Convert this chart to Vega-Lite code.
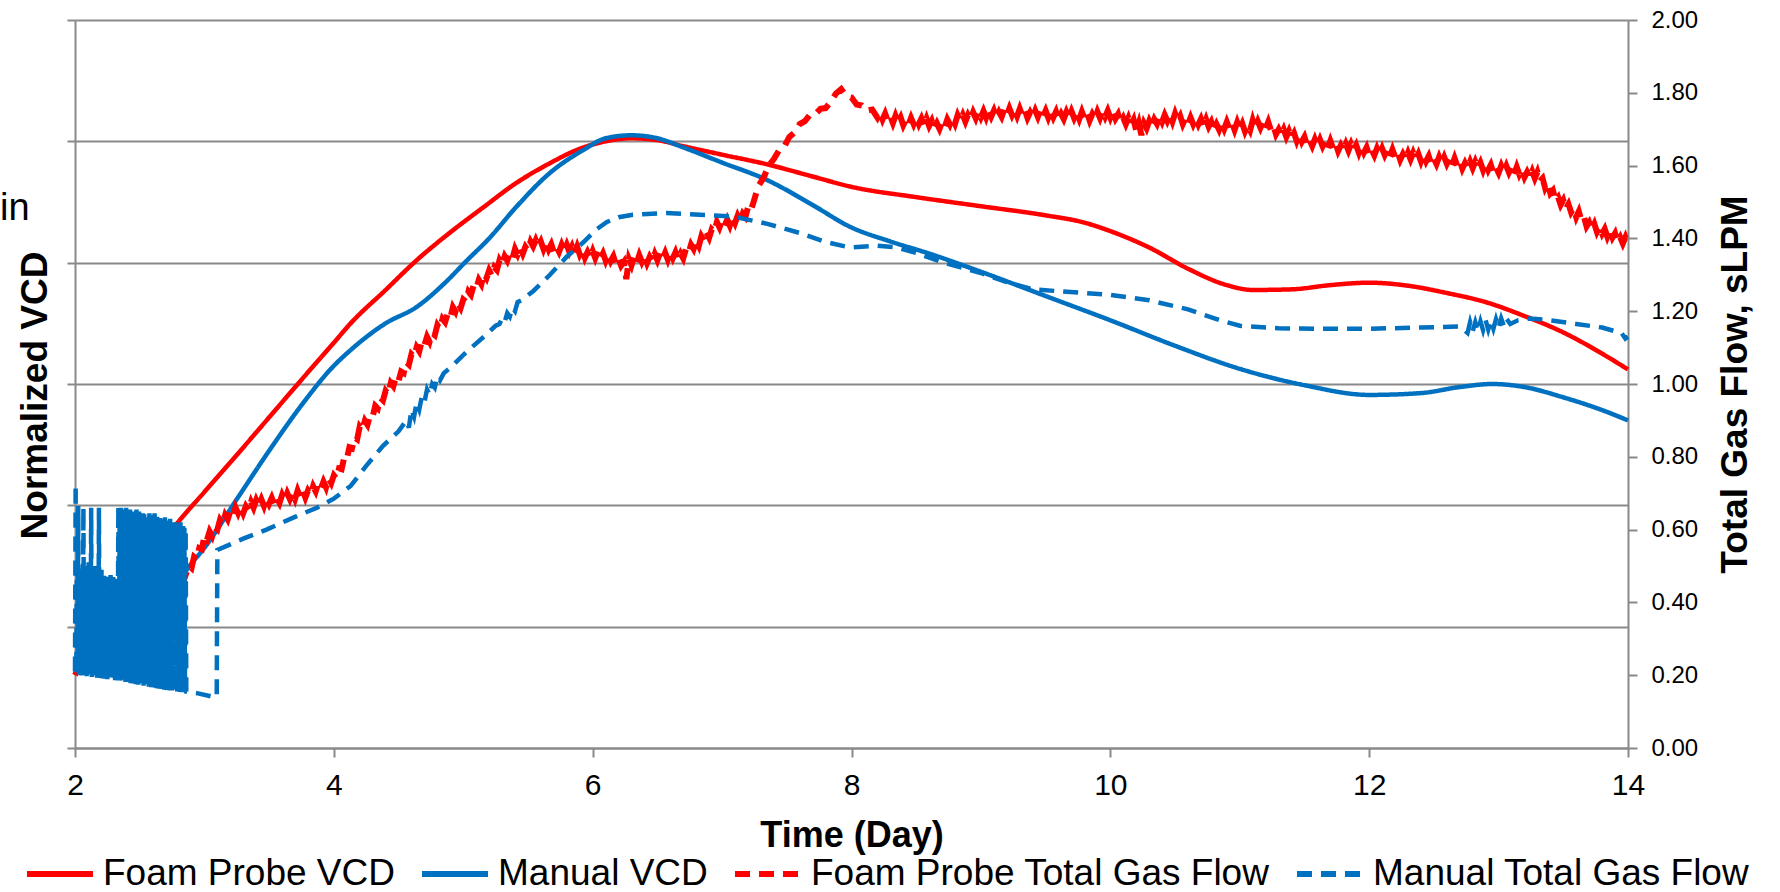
{
  "$schema": "https://vega.github.io/schema/vega-lite/v6.json",
  "width": 1553,
  "height": 728,
  "autosize": {"type": "none"},
  "padding": {"left": 75, "top": 20, "right": 152, "bottom": 144},
  "background": "white",
  "config": {
    "font": "Liberation Sans",
    "view": {"stroke": null},
    "axis": {
      "domainColor": "#898989",
      "domainWidth": 2,
      "tickColor": "#898989",
      "tickWidth": 2,
      "labelColor": "#000000",
      "titleColor": "#000000",
      "titleFont": "Liberation Sans",
      "labelFont": "Liberation Sans",
      "titleFontWeight": "bold",
      "titleLimit": 2000,
      "labelFlush": false,
      "labelOverlap": false
    },
    "legend": {
      "orient": "none",
      "legendX": -51,
      "legendY": 818,
      "direction": "horizontal",
      "labelFontSize": 37,
      "labelFont": "Liberation Sans",
      "labelColor": "#000000",
      "labelLimit": 2000,
      "labelOffset": 7,
      "columnPadding": 15,
      "symbolType": "stroke",
      "symbolSize": 4356,
      "symbolStrokeWidth": 6,
      "padding": 0
    }
  },
  "datasets": {
    "foamVcd": [
      {"t": 2.7, "fv": 0.347}, {"t": 2.76, "fv": 0.363}, {"t": 3.0, "fv": 0.422}, {"t": 3.25, "fv": 0.483},
      {"t": 3.5, "fv": 0.545}, {"t": 3.75, "fv": 0.607}, {"t": 4.0, "fv": 0.668}, {"t": 4.13, "fv": 0.7},
      {"t": 4.4, "fv": 0.755}, {"t": 4.64, "fv": 0.804}, {"t": 4.9, "fv": 0.85}, {"t": 5.16, "fv": 0.892},
      {"t": 5.4, "fv": 0.93}, {"t": 5.67, "fv": 0.964}, {"t": 5.88, "fv": 0.986}, {"t": 6.1, "fv": 1.0},
      {"t": 6.3, "fv": 1.005}, {"t": 6.5, "fv": 1.002}, {"t": 6.7, "fv": 0.992}, {"t": 7.0, "fv": 0.978},
      {"t": 7.35, "fv": 0.962}, {"t": 7.7, "fv": 0.942}, {"t": 8.0, "fv": 0.925}, {"t": 8.5, "fv": 0.908},
      {"t": 9.0, "fv": 0.893}, {"t": 9.5, "fv": 0.878}, {"t": 9.8, "fv": 0.866}, {"t": 10.0, "fv": 0.852},
      {"t": 10.3, "fv": 0.825}, {"t": 10.6, "fv": 0.79}, {"t": 10.9, "fv": 0.763}, {"t": 11.1, "fv": 0.755},
      {"t": 11.4, "fv": 0.756}, {"t": 11.7, "fv": 0.763}, {"t": 12.0, "fv": 0.767}, {"t": 12.3, "fv": 0.762},
      {"t": 12.6, "fv": 0.75}, {"t": 12.9, "fv": 0.735}, {"t": 13.2, "fv": 0.712}, {"t": 13.5, "fv": 0.685},
      {"t": 13.8, "fv": 0.65}, {"t": 14.0, "fv": 0.624}
    ],
    "manualVcd": [
      {"t": 2.85, "mv": 0.29}, {"t": 2.87, "mv": 0.296}, {"t": 3.0, "mv": 0.33}, {"t": 3.25, "mv": 0.41},
      {"t": 3.5, "mv": 0.49}, {"t": 3.75, "mv": 0.565}, {"t": 4.0, "mv": 0.63}, {"t": 4.13, "mv": 0.656},
      {"t": 4.4, "mv": 0.7}, {"t": 4.64, "mv": 0.727}, {"t": 4.85, "mv": 0.765}, {"t": 5.03, "mv": 0.804},
      {"t": 5.2, "mv": 0.84}, {"t": 5.41, "mv": 0.892}, {"t": 5.67, "mv": 0.948}, {"t": 5.93, "mv": 0.986},
      {"t": 6.1, "mv": 1.005}, {"t": 6.3, "mv": 1.01}, {"t": 6.5, "mv": 1.005}, {"t": 6.7, "mv": 0.99},
      {"t": 7.0, "mv": 0.965}, {"t": 7.35, "mv": 0.936}, {"t": 7.7, "mv": 0.895}, {"t": 7.99, "mv": 0.859},
      {"t": 8.3, "mv": 0.835}, {"t": 8.6, "mv": 0.815}, {"t": 9.0, "mv": 0.785}, {"t": 9.5, "mv": 0.745},
      {"t": 10.0, "mv": 0.705}, {"t": 10.5, "mv": 0.663}, {"t": 11.0, "mv": 0.625}, {"t": 11.5, "mv": 0.598},
      {"t": 12.0, "mv": 0.582}, {"t": 12.4, "mv": 0.585}, {"t": 12.7, "mv": 0.595}, {"t": 12.95, "mv": 0.6},
      {"t": 13.2, "mv": 0.595}, {"t": 13.5, "mv": 0.578}, {"t": 13.8, "mv": 0.557}, {"t": 14.0, "mv": 0.54}
    ],
    "foamGas": [
      {"t":2.0,"fg":0.2},{"t":2.02,"fg":0.215},{"t":2.1,"fg":0.225},{"t":2.2,"fg":0.24},{"t":2.3,"fg":0.255},{"t":2.4,"fg":0.27},
      {"t":2.5,"fg":0.3},{"t":2.6,"fg":0.33},{"t":2.7,"fg":0.38},{"t":2.8,"fg":0.43},{"t":2.84,"fg":0.46},
      {"t":2.88,"fg":0.5},{"t":2.9,"fg":0.494},{"t":2.92,"fg":0.525},{"t":2.94,"fg":0.519},{"t":2.96,"fg":0.549},{"t":2.98,"fg":0.546},
      {"t":3.0,"fg":0.583},{"t":3.02,"fg":0.572},{"t":3.04,"fg":0.595},{"t":3.06,"fg":0.582},{"t":3.08,"fg":0.606},{"t":3.1,"fg":0.6},
      {"t":3.12,"fg":0.626},{"t":3.14,"fg":0.615},{"t":3.16,"fg":0.64},{"t":3.18,"fg":0.628},{"t":3.2,"fg":0.65},{"t":3.22,"fg":0.637},
      {"t":3.24,"fg":0.661},{"t":3.26,"fg":0.645},{"t":3.28,"fg":0.663},{"t":3.3,"fg":0.645},{"t":3.32,"fg":0.664},{"t":3.34,"fg":0.653},
      {"t":3.36,"fg":0.676},{"t":3.38,"fg":0.66},{"t":3.4,"fg":0.681},{"t":3.42,"fg":0.665},{"t":3.44,"fg":0.683},{"t":3.46,"fg":0.665},
      {"t":3.48,"fg":0.688},{"t":3.5,"fg":0.671},{"t":3.52,"fg":0.687},{"t":3.54,"fg":0.668},{"t":3.56,"fg":0.686},{"t":3.58,"fg":0.673},
      {"t":3.6,"fg":0.695},{"t":3.62,"fg":0.679},{"t":3.64,"fg":0.7},{"t":3.66,"fg":0.684},{"t":3.68,"fg":0.702},{"t":3.7,"fg":0.684},
      {"t":3.72,"fg":0.707},{"t":3.74,"fg":0.689},{"t":3.76,"fg":0.707},{"t":3.78,"fg":0.688},{"t":3.8,"fg":0.707},{"t":3.82,"fg":0.696},
      {"t":3.84,"fg":0.719},{"t":3.86,"fg":0.705},{"t":3.88,"fg":0.727},{"t":3.9,"fg":0.713},{"t":3.92,"fg":0.732},{"t":3.94,"fg":0.716},
      {"t":3.96,"fg":0.741},{"t":3.98,"fg":0.728},{"t":4.0,"fg":0.749},{"t":4.02,"fg":0.74},{"t":4.04,"fg":0.768},{"t":4.06,"fg":0.766},
      {"t":4.08,"fg":0.798},{"t":4.1,"fg":0.793},{"t":4.12,"fg":0.826},{"t":4.14,"fg":0.823},{"t":4.16,"fg":0.853},{"t":4.18,"fg":0.848},
      {"t":4.2,"fg":0.883},{"t":4.22,"fg":0.874},{"t":4.24,"fg":0.899},{"t":4.26,"fg":0.888},{"t":4.28,"fg":0.914},{"t":4.3,"fg":0.91},
      {"t":4.32,"fg":0.94},{"t":4.34,"fg":0.933},{"t":4.36,"fg":0.962},{"t":4.38,"fg":0.955},{"t":4.4,"fg":0.981},{"t":4.42,"fg":0.972},
      {"t":4.44,"fg":1.003},{"t":4.46,"fg":0.994},{"t":4.48,"fg":1.019},{"t":4.5,"fg":1.008},{"t":4.52,"fg":1.034},{"t":4.54,"fg":1.03},
      {"t":4.56,"fg":1.06},{"t":4.58,"fg":1.053},{"t":4.6,"fg":1.082},{"t":4.62,"fg":1.075},{"t":4.64,"fg":1.101},{"t":4.66,"fg":1.09},
      {"t":4.68,"fg":1.118},{"t":4.7,"fg":1.107},{"t":4.72,"fg":1.13},{"t":4.74,"fg":1.116},{"t":4.76,"fg":1.14},{"t":4.78,"fg":1.134},
      {"t":4.8,"fg":1.162},{"t":4.82,"fg":1.152},{"t":4.84,"fg":1.179},{"t":4.86,"fg":1.17},{"t":4.88,"fg":1.193},{"t":4.9,"fg":1.182},
      {"t":4.92,"fg":1.211},{"t":4.94,"fg":1.199},{"t":4.96,"fg":1.222},{"t":4.98,"fg":1.209},{"t":5.0,"fg":1.232},{"t":5.02,"fg":1.226},
      {"t":5.04,"fg":1.254},{"t":5.06,"fg":1.245},{"t":5.08,"fg":1.271},{"t":5.1,"fg":1.262},{"t":5.12,"fg":1.286},{"t":5.14,"fg":1.274},
      {"t":5.16,"fg":1.303},{"t":5.18,"fg":1.291},{"t":5.2,"fg":1.312},{"t":5.22,"fg":1.298},{"t":5.24,"fg":1.321},{"t":5.26,"fg":1.313},
      {"t":5.28,"fg":1.34},{"t":5.3,"fg":1.328},{"t":5.32,"fg":1.351},{"t":5.34,"fg":1.339},{"t":5.36,"fg":1.359},{"t":5.38,"fg":1.345},
      {"t":5.4,"fg":1.371},{"t":5.42,"fg":1.356},{"t":5.44,"fg":1.375},{"t":5.46,"fg":1.358},{"t":5.48,"fg":1.377},{"t":5.5,"fg":1.367},
      {"t":5.52,"fg":1.391},{"t":5.54,"fg":1.378},{"t":5.56,"fg":1.395},{"t":5.58,"fg":1.377},{"t":5.6,"fg":1.391},{"t":5.62,"fg":1.371},
      {"t":5.64,"fg":1.39},{"t":5.66,"fg":1.37},{"t":5.68,"fg":1.384},{"t":5.7,"fg":1.362},{"t":5.72,"fg":1.377},{"t":5.74,"fg":1.363},
      {"t":5.76,"fg":1.382},{"t":5.78,"fg":1.364},{"t":5.8,"fg":1.382},{"t":5.82,"fg":1.363},{"t":5.84,"fg":1.378},{"t":5.86,"fg":1.357},
      {"t":5.88,"fg":1.377},{"t":5.9,"fg":1.356},{"t":5.92,"fg":1.37},{"t":5.94,"fg":1.347},{"t":5.96,"fg":1.362},{"t":5.98,"fg":1.346},
      {"t":6.0,"fg":1.365},{"t":6.02,"fg":1.346},{"t":6.04,"fg":1.364},{"t":6.06,"fg":1.345},{"t":6.08,"fg":1.359},{"t":6.1,"fg":1.339},
      {"t":6.12,"fg":1.358},{"t":6.14,"fg":1.338},{"t":6.16,"fg":1.351},{"t":6.18,"fg":1.329},{"t":6.2,"fg":1.344},{"t":6.22,"fg":1.325},
      {"t":6.24,"fg":1.335},{"t":6.26,"fg":1.288},{"t":6.28,"fg":1.343},{"t":6.3,"fg":1.326},{"t":6.32,"fg":1.35},{"t":6.34,"fg":1.332},
      {"t":6.36,"fg":1.354},{"t":6.38,"fg":1.336},{"t":6.4,"fg":1.352},{"t":6.42,"fg":1.332},{"t":6.44,"fg":1.349},{"t":6.46,"fg":1.336},
      {"t":6.48,"fg":1.357},{"t":6.5,"fg":1.34},{"t":6.52,"fg":1.36},{"t":6.54,"fg":1.344},{"t":6.56,"fg":1.361},{"t":6.58,"fg":1.342},
      {"t":6.6,"fg":1.364},{"t":6.62,"fg":1.346},{"t":6.64,"fg":1.362},{"t":6.66,"fg":1.341},{"t":6.68,"fg":1.358},{"t":6.7,"fg":1.345},
      {"t":6.72,"fg":1.37},{"t":6.74,"fg":1.359},{"t":6.76,"fg":1.383},{"t":6.78,"fg":1.371},{"t":6.8,"fg":1.393},{"t":6.82,"fg":1.379},
      {"t":6.84,"fg":1.406},{"t":6.86,"fg":1.394},{"t":6.88,"fg":1.416},{"t":6.9,"fg":1.402},{"t":6.92,"fg":1.425},{"t":6.94,"fg":1.418},
      {"t":6.96,"fg":1.445},{"t":6.98,"fg":1.43},{"t":7.0,"fg":1.45},{"t":7.02,"fg":1.435},{"t":7.04,"fg":1.452},{"t":7.06,"fg":1.435},
      {"t":7.08,"fg":1.457},{"t":7.1,"fg":1.442},{"t":7.12,"fg":1.462},{"t":7.14,"fg":1.447},{"t":7.16,"fg":1.468},{"t":7.18,"fg":1.459},
      {"t":7.2,"fg":1.485},{"t":7.22,"fg":1.475},
      {"t":7.24,"fg":1.496},{"t":7.28,"fg":1.544},{"t":7.32,"fg":1.566},{"t":7.36,"fg":1.6},{"t":7.4,"fg":1.618},{"t":7.44,"fg":1.642},
      {"t":7.48,"fg":1.652},{"t":7.52,"fg":1.679},{"t":7.56,"fg":1.691},{"t":7.6,"fg":1.714},{"t":7.64,"fg":1.722},{"t":7.68,"fg":1.74},
      {"t":7.72,"fg":1.741},{"t":7.76,"fg":1.756},{"t":7.8,"fg":1.758},{"t":7.84,"fg":1.776},{"t":7.88,"fg":1.798},{"t":7.92,"fg":1.81},
      {"t":7.96,"fg":1.79},{"t":8.0,"fg":1.787},{"t":8.04,"fg":1.768},{"t":8.08,"fg":1.765},{"t":8.12,"fg":1.751},{"t":8.16,"fg":1.754},
      {"t":8.2,"fg":1.732},
      {"t":8.22,"fg":1.747},{"t":8.24,"fg":1.727},{"t":8.26,"fg":1.743},{"t":8.28,"fg":1.723},{"t":8.3,"fg":1.736},{"t":8.32,"fg":1.717},
      {"t":8.34,"fg":1.737},{"t":8.36,"fg":1.718},{"t":8.38,"fg":1.732},{"t":8.4,"fg":1.711},{"t":8.42,"fg":1.726},{"t":8.44,"fg":1.712},
      {"t":8.46,"fg":1.731},{"t":8.48,"fg":1.714},{"t":8.5,"fg":1.732},{"t":8.52,"fg":1.714},{"t":8.54,"fg":1.729},{"t":8.56,"fg":1.709},
      {"t":8.58,"fg":1.729},{"t":8.6,"fg":1.709},{"t":8.62,"fg":1.723},{"t":8.64,"fg":1.701},{"t":8.66,"fg":1.716},{"t":8.68,"fg":1.701},
      {"t":8.7,"fg":1.72},{"t":8.72,"fg":1.706},{"t":8.74,"fg":1.727},{"t":8.76,"fg":1.713},{"t":8.78,"fg":1.731},{"t":8.8,"fg":1.715},
      {"t":8.82,"fg":1.738},{"t":8.84,"fg":1.722},{"t":8.86,"fg":1.739},{"t":8.88,"fg":1.721},{"t":8.9,"fg":1.739},{"t":8.92,"fg":1.726},
      {"t":8.94,"fg":1.746},{"t":8.96,"fg":1.73},{"t":8.98,"fg":1.75},{"t":9.0,"fg":1.733},{"t":9.02,"fg":1.75},{"t":9.04,"fg":1.732},
      {"t":9.06,"fg":1.753},{"t":9.08,"fg":1.735},{"t":9.1,"fg":1.751},{"t":9.12,"fg":1.73},{"t":9.14,"fg":1.747},{"t":9.16,"fg":1.734},
      {"t":9.18,"fg":1.754},{"t":9.2,"fg":1.738},{"t":9.22,"fg":1.757},{"t":9.24,"fg":1.739},{"t":9.26,"fg":1.755},{"t":9.28,"fg":1.736},
      {"t":9.3,"fg":1.756},{"t":9.32,"fg":1.737},{"t":9.34,"fg":1.752},{"t":9.36,"fg":1.731},{"t":9.38,"fg":1.746},{"t":9.4,"fg":1.732},
      {"t":9.42,"fg":1.751},{"t":9.44,"fg":1.734},{"t":9.46,"fg":1.753},{"t":9.48,"fg":1.735},{"t":9.5,"fg":1.751},{"t":9.52,"fg":1.732},
      {"t":9.54,"fg":1.752},{"t":9.56,"fg":1.733},{"t":9.58,"fg":1.748},{"t":9.6,"fg":1.726},{"t":9.62,"fg":1.742},{"t":9.64,"fg":1.728},
      {"t":9.66,"fg":1.747},{"t":9.68,"fg":1.73},{"t":9.7,"fg":1.749},{"t":9.72,"fg":1.731},{"t":9.74,"fg":1.747},{"t":9.76,"fg":1.728},
      {"t":9.78,"fg":1.748},{"t":9.8,"fg":1.729},{"t":9.82,"fg":1.745},{"t":9.84,"fg":1.724},{"t":9.86,"fg":1.741},{"t":9.88,"fg":1.727},
      {"t":9.9,"fg":1.748},{"t":9.92,"fg":1.731},{"t":9.94,"fg":1.751},{"t":9.96,"fg":1.734},{"t":9.98,"fg":1.751},{"t":10.0,"fg":1.732},
      {"t":10.02,"fg":1.75},{"t":10.04,"fg":1.729},{"t":10.06,"fg":1.741},{"t":10.08,"fg":1.717},{"t":10.1,"fg":1.731},{"t":10.12,"fg":1.714},
      {"t":10.14,"fg":1.731},{"t":10.16,"fg":1.711},{"t":10.18,"fg":1.726},{"t":10.2,"fg":1.695},{"t":10.22,"fg":1.717},{"t":10.24,"fg":1.684},
      {"t":10.26,"fg":1.716},{"t":10.28,"fg":1.702},{"t":10.3,"fg":1.722},{"t":10.32,"fg":1.706},{"t":10.34,"fg":1.727},{"t":10.36,"fg":1.715},
      {"t":10.38,"fg":1.736},{"t":10.4,"fg":1.72},{"t":10.42,"fg":1.739},{"t":10.44,"fg":1.723},{"t":10.46,"fg":1.74},{"t":10.48,"fg":1.721},
      {"t":10.5,"fg":1.743},{"t":10.52,"fg":1.723},{"t":10.54,"fg":1.736},{"t":10.56,"fg":1.714},{"t":10.58,"fg":1.729},{"t":10.6,"fg":1.713},
      {"t":10.62,"fg":1.732},{"t":10.64,"fg":1.714},{"t":10.66,"fg":1.731},{"t":10.68,"fg":1.713},{"t":10.7,"fg":1.728},{"t":10.72,"fg":1.707},
      {"t":10.74,"fg":1.727},{"t":10.76,"fg":1.707},{"t":10.78,"fg":1.72},{"t":10.8,"fg":1.698},{"t":10.82,"fg":1.714},{"t":10.84,"fg":1.699},
      {"t":10.86,"fg":1.719},{"t":10.88,"fg":1.701},{"t":10.9,"fg":1.72},{"t":10.92,"fg":1.702},{"t":10.94,"fg":1.718},{"t":10.96,"fg":1.698},
      {"t":10.98,"fg":1.719},{"t":11.0,"fg":1.699},{"t":11.02,"fg":1.715},{"t":11.04,"fg":1.694},{"t":11.06,"fg":1.711},{"t":11.08,"fg":1.697},
      {"t":11.1,"fg":1.724},{"t":11.12,"fg":1.701},{"t":11.14,"fg":1.721},{"t":11.16,"fg":1.704},{"t":11.18,"fg":1.721},{"t":11.2,"fg":1.702},
      {"t":11.22,"fg":1.72},{"t":11.24,"fg":1.698},{"t":11.26,"fg":1.71},{"t":11.28,"fg":1.686},{"t":11.3,"fg":1.699},{"t":11.32,"fg":1.682},
      {"t":11.34,"fg":1.699},{"t":11.36,"fg":1.679},{"t":11.38,"fg":1.695},{"t":11.4,"fg":1.675},{"t":11.42,"fg":1.689},{"t":11.44,"fg":1.668},
      {"t":11.46,"fg":1.687},{"t":11.48,"fg":1.666},{"t":11.5,"fg":1.679},{"t":11.52,"fg":1.656},{"t":11.54,"fg":1.67},{"t":11.56,"fg":1.654},
      {"t":11.58,"fg":1.672},{"t":11.6,"fg":1.653},{"t":11.62,"fg":1.671},{"t":11.64,"fg":1.653},{"t":11.66,"fg":1.668},{"t":11.68,"fg":1.648},
      {"t":11.7,"fg":1.668},{"t":11.72,"fg":1.648},{"t":11.74,"fg":1.662},{"t":11.76,"fg":1.64},{"t":11.78,"fg":1.655},{"t":11.8,"fg":1.64},
      {"t":11.82,"fg":1.659},{"t":11.84,"fg":1.641},{"t":11.86,"fg":1.659},{"t":11.88,"fg":1.641},{"t":11.9,"fg":1.656},{"t":11.92,"fg":1.636},
      {"t":11.94,"fg":1.656},{"t":11.96,"fg":1.636},{"t":11.98,"fg":1.65},{"t":12.0,"fg":1.628},{"t":12.02,"fg":1.643},{"t":12.04,"fg":1.628},
      {"t":12.06,"fg":1.647},{"t":12.08,"fg":1.629},{"t":12.1,"fg":1.647},{"t":12.12,"fg":1.629},{"t":12.14,"fg":1.644},{"t":12.16,"fg":1.624},
      {"t":12.18,"fg":1.644},{"t":12.2,"fg":1.624},{"t":12.22,"fg":1.638},{"t":12.24,"fg":1.616},{"t":12.26,"fg":1.631},{"t":12.28,"fg":1.616},
      {"t":12.3,"fg":1.635},{"t":12.32,"fg":1.617},{"t":12.34,"fg":1.635},{"t":12.36,"fg":1.617},{"t":12.38,"fg":1.632},{"t":12.4,"fg":1.612},
      {"t":12.42,"fg":1.632},{"t":12.44,"fg":1.612},{"t":12.46,"fg":1.626},{"t":12.48,"fg":1.604},{"t":12.5,"fg":1.619},{"t":12.52,"fg":1.604},
      {"t":12.54,"fg":1.623},{"t":12.56,"fg":1.605},{"t":12.58,"fg":1.623},{"t":12.6,"fg":1.605},{"t":12.62,"fg":1.62},{"t":12.64,"fg":1.6},
      {"t":12.66,"fg":1.62},{"t":12.68,"fg":1.6},{"t":12.7,"fg":1.614},{"t":12.72,"fg":1.592},{"t":12.74,"fg":1.607},{"t":12.76,"fg":1.592},
      {"t":12.78,"fg":1.611},{"t":12.8,"fg":1.593},{"t":12.82,"fg":1.611},{"t":12.84,"fg":1.593},{"t":12.86,"fg":1.608},{"t":12.88,"fg":1.588},
      {"t":12.9,"fg":1.608},{"t":12.92,"fg":1.588},{"t":12.94,"fg":1.602},{"t":12.96,"fg":1.58},{"t":12.98,"fg":1.595},{"t":13.0,"fg":1.58},
      {"t":13.02,"fg":1.599},{"t":13.04,"fg":1.581},{"t":13.06,"fg":1.599},{"t":13.08,"fg":1.581},{"t":13.1,"fg":1.596},{"t":13.12,"fg":1.576},
      {"t":13.14,"fg":1.596},{"t":13.16,"fg":1.576},{"t":13.18,"fg":1.59},{"t":13.2,"fg":1.568},{"t":13.22,"fg":1.582},{"t":13.24,"fg":1.566},
      {"t":13.26,"fg":1.584},{"t":13.28,"fg":1.565},{"t":13.3,"fg":1.582},{"t":13.32,"fg":1.557},{"t":13.34,"fg":1.565},{"t":13.36,"fg":1.538},
      {"t":13.38,"fg":1.551},{"t":13.4,"fg":1.524},{"t":13.42,"fg":1.532},{"t":13.44,"fg":1.504},{"t":13.46,"fg":1.513},{"t":13.48,"fg":1.492},
      {"t":13.5,"fg":1.505},{"t":13.52,"fg":1.481},{"t":13.54,"fg":1.494},{"t":13.56,"fg":1.472},{"t":13.58,"fg":1.483},{"t":13.6,"fg":1.458},
      {"t":13.62,"fg":1.474},{"t":13.64,"fg":1.449},{"t":13.66,"fg":1.459},{"t":13.68,"fg":1.433},{"t":13.7,"fg":1.444},{"t":13.72,"fg":1.425},
      {"t":13.74,"fg":1.44},{"t":13.76,"fg":1.418},{"t":13.78,"fg":1.432},{"t":13.8,"fg":1.413},{"t":13.82,"fg":1.426},{"t":13.84,"fg":1.405},
      {"t":13.86,"fg":1.423},{"t":13.88,"fg":1.402},{"t":13.9,"fg":1.414},{"t":13.92,"fg":1.39},{"t":13.94,"fg":1.403},{"t":13.96,"fg":1.386},
      {"t":13.98,"fg":1.403},{"t":14.0,"fg":1.383}
    ],
    "manualGas": [
      {"t":2.0,"mg":0.21},{"t":2.005,"mg":0.725},{"t":2.01,"mg":0.204},{"t":2.015,"mg":0.5},{"t":2.02,"mg":0.208},{"t":2.025,"mg":0.665},
      {"t":2.03,"mg":0.201},{"t":2.035,"mg":0.49},{"t":2.04,"mg":0.206},{"t":2.045,"mg":0.505},{"t":2.05,"mg":0.199},{"t":2.055,"mg":0.485},
      {"t":2.06,"mg":0.205},{"t":2.065,"mg":0.66},{"t":2.07,"mg":0.198},{"t":2.075,"mg":0.5},{"t":2.08,"mg":0.204},{"t":2.085,"mg":0.48},
      {"t":2.09,"mg":0.197},{"t":2.095,"mg":0.495},{"t":2.1,"mg":0.203},{"t":2.105,"mg":0.51},{"t":2.11,"mg":0.196},{"t":2.115,"mg":0.485},
      {"t":2.12,"mg":0.202},{"t":2.125,"mg":0.66},{"t":2.13,"mg":0.195},{"t":2.135,"mg":0.49},{"t":2.14,"mg":0.201},{"t":2.145,"mg":0.475},
      {"t":2.15,"mg":0.194},{"t":2.155,"mg":0.5},{"t":2.16,"mg":0.2},{"t":2.165,"mg":0.48},{"t":2.17,"mg":0.193},{"t":2.175,"mg":0.49},
      {"t":2.18,"mg":0.199},{"t":2.185,"mg":0.66},{"t":2.19,"mg":0.192},{"t":2.195,"mg":0.475},{"t":2.2,"mg":0.198},{"t":2.205,"mg":0.49},
      {"t":2.21,"mg":0.191},{"t":2.215,"mg":0.47},{"t":2.22,"mg":0.197},{"t":2.225,"mg":0.485},{"t":2.23,"mg":0.19},{"t":2.235,"mg":0.465},
      {"t":2.24,"mg":0.196},{"t":2.245,"mg":0.48},{"t":2.25,"mg":0.189},{"t":2.255,"mg":0.47},{"t":2.26,"mg":0.195},{"t":2.265,"mg":0.46},
      {"t":2.27,"mg":0.188},{"t":2.275,"mg":0.475},{"t":2.28,"mg":0.194},{"t":2.285,"mg":0.465},{"t":2.29,"mg":0.187},{"t":2.295,"mg":0.47},
      {"t":2.3,"mg":0.193},{"t":2.305,"mg":0.455},{"t":2.31,"mg":0.186},{"t":2.315,"mg":0.465},{"t":2.32,"mg":0.192},{"t":2.325,"mg":0.45},
      {"t":2.33,"mg":0.185},{"t":2.335,"mg":0.665},{"t":2.34,"mg":0.191},{"t":2.345,"mg":0.645},{"t":2.35,"mg":0.184},{"t":2.355,"mg":0.66},
      {"t":2.36,"mg":0.19},{"t":2.365,"mg":0.635},{"t":2.37,"mg":0.183},{"t":2.375,"mg":0.655},{"t":2.38,"mg":0.188},{"t":2.385,"mg":0.64},
      {"t":2.39,"mg":0.181},{"t":2.395,"mg":0.66},{"t":2.4,"mg":0.187},{"t":2.405,"mg":0.63},{"t":2.41,"mg":0.18},{"t":2.415,"mg":0.65},
      {"t":2.42,"mg":0.185},{"t":2.425,"mg":0.655},{"t":2.43,"mg":0.178},{"t":2.435,"mg":0.635},{"t":2.44,"mg":0.184},{"t":2.445,"mg":0.65},
      {"t":2.45,"mg":0.177},{"t":2.455,"mg":0.625},{"t":2.46,"mg":0.182},{"t":2.465,"mg":0.645},{"t":2.47,"mg":0.175},{"t":2.475,"mg":0.655},
      {"t":2.48,"mg":0.181},{"t":2.485,"mg":0.63},{"t":2.49,"mg":0.174},{"t":2.495,"mg":0.65},{"t":2.5,"mg":0.179},{"t":2.505,"mg":0.64},
      {"t":2.51,"mg":0.172},{"t":2.515,"mg":0.62},{"t":2.52,"mg":0.178},{"t":2.525,"mg":0.645},{"t":2.53,"mg":0.171},{"t":2.535,"mg":0.65},
      {"t":2.54,"mg":0.176},{"t":2.545,"mg":0.625},{"t":2.55,"mg":0.17},{"t":2.555,"mg":0.64},{"t":2.56,"mg":0.175},{"t":2.565,"mg":0.635},
      {"t":2.57,"mg":0.168},{"t":2.575,"mg":0.645},{"t":2.58,"mg":0.173},{"t":2.585,"mg":0.62},{"t":2.59,"mg":0.167},{"t":2.595,"mg":0.64},
      {"t":2.6,"mg":0.172},{"t":2.605,"mg":0.63},{"t":2.61,"mg":0.166},{"t":2.615,"mg":0.645},{"t":2.62,"mg":0.17},{"t":2.625,"mg":0.615},
      {"t":2.63,"mg":0.164},{"t":2.635,"mg":0.635},{"t":2.64,"mg":0.169},{"t":2.645,"mg":0.625},{"t":2.65,"mg":0.163},{"t":2.655,"mg":0.64},
      {"t":2.66,"mg":0.167},{"t":2.665,"mg":0.61},{"t":2.67,"mg":0.162},{"t":2.675,"mg":0.63},{"t":2.68,"mg":0.166},{"t":2.685,"mg":0.62},
      {"t":2.69,"mg":0.16},{"t":2.695,"mg":0.635},{"t":2.7,"mg":0.165},{"t":2.705,"mg":0.615},{"t":2.71,"mg":0.159},{"t":2.715,"mg":0.625},
      {"t":2.72,"mg":0.163},{"t":2.725,"mg":0.61},{"t":2.73,"mg":0.158},{"t":2.735,"mg":0.63},{"t":2.74,"mg":0.162},{"t":2.745,"mg":0.605},
      {"t":2.75,"mg":0.157},{"t":2.755,"mg":0.62},{"t":2.76,"mg":0.161},{"t":2.765,"mg":0.615},{"t":2.77,"mg":0.156},{"t":2.775,"mg":0.625},
      {"t":2.78,"mg":0.16},{"t":2.785,"mg":0.6},{"t":2.79,"mg":0.155},{"t":2.795,"mg":0.615},{"t":2.8,"mg":0.159},{"t":2.805,"mg":0.61},
      {"t":2.81,"mg":0.154},{"t":2.815,"mg":0.62},{"t":2.82,"mg":0.158},{"t":2.825,"mg":0.6},{"t":2.83,"mg":0.153},{"t":2.835,"mg":0.61},
      {"t":2.84,"mg":0.157},{"t":2.845,"mg":0.605},{"t":2.85,"mg":0.153},{"t":2.855,"mg":0.6},{"t":2.86,"mg":0.155},
      {"t":2.95,"mg":0.15},{"t":3.05,"mg":0.142},{"t":3.095,"mg":0.14},{"t":3.1,"mg":0.544},{"t":3.3,"mg":0.575},{"t":3.48,"mg":0.6},
      {"t":3.7,"mg":0.635},{"t":3.87,"mg":0.66},{"t":4.0,"mg":0.685},{"t":4.13,"mg":0.72},{"t":4.25,"mg":0.775},{"t":4.38,"mg":0.83},
      {"t":4.5,"mg":0.87},{"t":4.56,"mg":0.9},{"t":4.58,"mg":0.88},{"t":4.6,"mg":0.93},{"t":4.62,"mg":0.91},{"t":4.64,"mg":0.95},
      {"t":4.66,"mg":0.93},{"t":4.68,"mg":0.965},{"t":4.7,"mg":0.95},{"t":4.72,"mg":0.985},{"t":4.74,"mg":0.97},{"t":4.76,"mg":1.0},
      {"t":4.78,"mg":0.99},{"t":4.8,"mg":1.02},{"t":4.82,"mg":1.01},{"t":4.85,"mg":1.03},{"t":4.9,"mg":1.045},{"t":5.03,"mg":1.09},
      {"t":5.16,"mg":1.13},{"t":5.25,"mg":1.16},{"t":5.28,"mg":1.165},{"t":5.3,"mg":1.18},{"t":5.32,"mg":1.17},{"t":5.34,"mg":1.195},
      {"t":5.36,"mg":1.185},{"t":5.38,"mg":1.21},{"t":5.4,"mg":1.2},{"t":5.42,"mg":1.225},{"t":5.45,"mg":1.23},{"t":5.54,"mg":1.255},
      {"t":5.67,"mg":1.3},{"t":5.8,"mg":1.35},{"t":5.93,"mg":1.39},{"t":6.03,"mg":1.425},{"t":6.11,"mg":1.445},{"t":6.2,"mg":1.458},
      {"t":6.31,"mg":1.465},{"t":6.57,"mg":1.47},{"t":6.83,"mg":1.465},{"t":7.09,"mg":1.46},{"t":7.35,"mg":1.44},{"t":7.6,"mg":1.415},
      {"t":7.8,"mg":1.39},{"t":7.99,"mg":1.375},{"t":8.2,"mg":1.38},{"t":8.35,"mg":1.375},{"t":8.5,"mg":1.36},{"t":8.7,"mg":1.335},
      {"t":9.0,"mg":1.305},{"t":9.2,"mg":1.28},{"t":9.4,"mg":1.26},{"t":9.6,"mg":1.255},{"t":9.8,"mg":1.25},{"t":10.0,"mg":1.245},
      {"t":10.3,"mg":1.23},{"t":10.6,"mg":1.205},{"t":10.85,"mg":1.175},{"t":11.0,"mg":1.16},{"t":11.3,"mg":1.153},{"t":11.6,"mg":1.152},
      {"t":12.0,"mg":1.152},{"t":12.4,"mg":1.155},{"t":12.7,"mg":1.158},{"t":12.76,"mg":1.14},{"t":12.78,"mg":1.17},{"t":12.8,"mg":1.145},
      {"t":12.82,"mg":1.17},{"t":12.84,"mg":1.145},{"t":12.86,"mg":1.172},{"t":12.88,"mg":1.148},{"t":12.9,"mg":1.175},{"t":12.92,"mg":1.15},
      {"t":12.94,"mg":1.175},{"t":12.96,"mg":1.152},{"t":12.98,"mg":1.178},{"t":13.0,"mg":1.155},{"t":13.02,"mg":1.18},{"t":13.04,"mg":1.16},
      {"t":13.06,"mg":1.18},{"t":13.09,"mg":1.165},{"t":13.15,"mg":1.175},{"t":13.24,"mg":1.18},{"t":13.4,"mg":1.175},{"t":13.6,"mg":1.165},
      {"t":13.8,"mg":1.155},{"t":13.95,"mg":1.14},{"t":13.98,"mg":1.125},{"t":14.0,"mg":1.13}
    ]
  },
  "encoding": {
    "x": {
      "field": "t",
      "type": "quantitative",
      "scale": {"domain": [2, 14], "nice": false, "zero": false},
      "axis": {
        "title": "Time (Day)",
        "values": [2, 4, 6, 8, 10, 12, 14],
        "grid": false,
        "tickSize": 9,
        "labelFontSize": 30,
        "labelPadding": 13,
        "titleFontSize": 36,
        "titlePadding": 18
      }
    }
  },
  "layer": [
    {
      "encoding": {
        "y": {
          "field": "v",
          "type": "quantitative",
          "scale": {"domain": [0, 1.2], "nice": false},
          "axis": {
            "title": "Normalized VCD",
            "values": [0, 0.2, 0.4, 0.6, 0.8, 1.0, 1.2],
            "labels": false,
            "grid": true,
            "gridColor": "#898989",
            "gridWidth": 2,
            "tickSize": 8,
            "titleFontSize": 37,
            "titleX": -40,
            "titleY": 375,
            "titleBaseline": "middle",
            "titleAngle": 270
          }
        }
      },
      "layer": [
        {
          "data": {"name": "foamVcd"},
          "transform": [{"fold": ["fv"], "as": ["s", "v"]}],
          "mark": {"type": "line", "strokeWidth": 4.5, "interpolate": "monotone"},
          "encoding": {
            "color": {
              "field": "s",
              "type": "nominal",
              "scale": {
                "domain": ["fv", "mv", "fg", "mg"],
                "range": ["#FF0000", "#0070C0", "#FF0000", "#0070C0"]
              },
              "legend": {
                "title": null,
                "labelExpr": "datum.label == 'fv' ? 'Foam Probe VCD' : datum.label == 'mv' ? 'Manual VCD' : datum.label == 'fg' ? 'Foam Probe Total Gas Flow' : 'Manual Total Gas Flow'"
              }
            },
            "strokeDash": {
              "field": "s",
              "type": "nominal",
              "scale": {
                "domain": ["fv", "mv", "fg", "mg"],
                "range": [[1, 0], [1, 0], [15, 9], [15, 9]]
              },
              "legend": {
                "title": null,
                "labelExpr": "datum.label == 'fv' ? 'Foam Probe VCD' : datum.label == 'mv' ? 'Manual VCD' : datum.label == 'fg' ? 'Foam Probe Total Gas Flow' : 'Manual Total Gas Flow'"
              }
            }
          }
        },
        {
          "data": {"name": "manualVcd"},
          "transform": [{"fold": ["mv"], "as": ["s", "v"]}],
          "mark": {"type": "line", "strokeWidth": 4.5, "interpolate": "monotone"},
          "encoding": {
            "color": {"field": "s", "type": "nominal"},
            "strokeDash": {"field": "s", "type": "nominal"}
          }
        },
        {
          "data": {"values": [{"t": 1.4204, "v": 0.87, "label": "in"}]},
          "mark": {"type": "text", "align": "left", "baseline": "alphabetic", "fontSize": 38, "color": "#000000"},
          "encoding": {
            "text": {"field": "label", "type": "nominal"}
          }
        }
      ]
    },
    {
      "encoding": {
        "y": {
          "field": "v",
          "type": "quantitative",
          "scale": {"domain": [0, 2], "nice": false},
          "axis": {
            "orient": "right",
            "title": "Total Gas Flow, sLPM",
            "values": [0, 0.2, 0.4, 0.6, 0.8, 1.0, 1.2, 1.4, 1.6, 1.8, 2.0],
            "format": ".2f",
            "grid": false,
            "tickSize": 9,
            "labelFontSize": 24,
            "labelPadding": 14,
            "titleFontSize": 37,
            "titleAngle": 270,
            "titleX": 107,
            "titleY": 364,
            "titleBaseline": "middle"
          }
        }
      },
      "layer": [
        {
          "data": {"name": "foamGas"},
          "transform": [{"fold": ["fg"], "as": ["s", "v"]}],
          "mark": {"type": "line", "strokeWidth": 6},
          "encoding": {
            "color": {"field": "s", "type": "nominal"},
            "strokeDash": {"field": "s", "type": "nominal"}
          }
        },
        {
          "data": {"name": "manualGas"},
          "transform": [{"fold": ["mg"], "as": ["s", "v"]}],
          "mark": {"type": "line", "strokeWidth": 4.5},
          "encoding": {
            "color": {"field": "s", "type": "nominal"},
            "strokeDash": {"field": "s", "type": "nominal"}
          }
        }
      ]
    }
  ],
  "resolve": {"scale": {"y": "independent"}}
}
